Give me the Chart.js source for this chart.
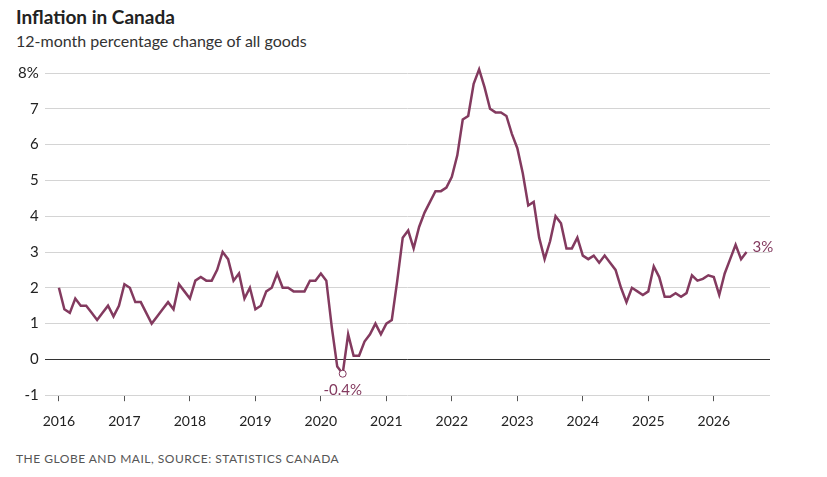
<!DOCTYPE html>
<html><head><meta charset="utf-8">
<script src="https://cdn.jsdelivr.net/npm/chart.js@4"></script>
<style>
body{margin:0;width:827px;height:477px;background:#fff;font-family:Lato,"Open Sans",sans-serif;position:relative;overflow:hidden}
#t{position:absolute;left:16px;top:5px;font-size:19px;font-weight:bold;color:#222}
#s{position:absolute;left:16px;top:31px;font-size:16px;color:#333}
#f{position:absolute;left:16px;top:451px;font-size:12px;color:#555;letter-spacing:0.5px}
#c{position:absolute;left:0;top:58px}
</style></head><body>
<div id="t">Inflation in Canada</div>
<div id="s">12-month percentage change of all goods</div>
<div id="f">THE GLOBE AND MAIL, SOURCE: STATISTICS CANADA</div>
<canvas id="c" width="827" height="384"></canvas>
<script>
const startYear = 2016;
const yearLabels = ['2016','2017','2018','2019','2020','2021','2022','2023','2024','2025','2026'];
const yTicks = [-1,0,1,2,3,4,5,6,7,8];
const inflation = [
2.0,1.4,1.3,1.7,1.5,1.5,1.3,1.1,1.3,1.5,1.2,1.5,
2.1,2.0,1.6,1.6,1.3,1.0,1.2,1.4,1.6,1.4,2.1,1.9,
1.7,2.2,2.3,2.2,2.2,2.5,3.0,2.8,2.2,2.4,1.7,2.0,
1.4,1.5,1.9,2.0,2.4,2.0,2.0,1.9,1.9,1.9,2.2,2.2,
2.4,2.2,0.9,-0.2,-0.4,0.7,0.1,0.1,0.5,0.7,1.0,0.7,
1.0,1.1,2.2,3.4,3.6,3.1,3.7,4.1,4.4,4.7,4.7,4.8,
5.1,5.7,6.7,6.8,7.7,8.1,7.6,7.0,6.9,6.9,6.8,6.3,
5.9,5.2,4.3,4.4,3.4,2.8,3.3,4.0,3.8,3.1,3.1,3.4,
2.9,2.8,2.9,2.7,2.9,2.7,2.5,2.0,1.6,2.0,1.9,1.8,
1.9,2.6,2.3,1.75,1.75,1.85,1.75,1.85,2.35,2.2,2.25,2.35,
2.3,1.8,2.4,2.8,3.2,2.8,3.0
];
const color='#833a5f';
const pts = inflation.map((v,i)=>({x:i,y:v}));
const minIdx = inflation.indexOf(Math.min(...inflation));
const lastIdx = inflation.length-1;
const annot={id:'annot',afterDatasetsDraw(ch){
 const {ctx,scales:{x,y}}=ch;
 ctx.save();
 const mx=x.getPixelForValue(minIdx), my=y.getPixelForValue(inflation[minIdx]);
 ctx.strokeStyle=color;ctx.fillStyle='#fff';ctx.lineWidth=1;
 ctx.beginPath();ctx.arc(mx,my,3.5,0,Math.PI*2);ctx.fill();ctx.stroke();
 ctx.fillStyle=color;ctx.font='15px Lato, sans-serif';ctx.textAlign='center';ctx.textBaseline='top';
 ctx.fillText(inflation[minIdx]+'%',mx,my+9);
 const lx=x.getPixelForValue(lastIdx), ly=y.getPixelForValue(inflation[lastIdx]);
 ctx.textAlign='left';ctx.textBaseline='middle';
 ctx.fillText(Math.round(inflation[lastIdx])+'%',lx+6,ly-5);
 ctx.restore();
}};
new Chart(document.getElementById('c'),{
 type:'line',
 data:{datasets:[{data:pts,borderColor:color,borderWidth:2.5,pointRadius:0,tension:0,clip:false}]},
 options:{responsive:false,animation:false,
  layout:{padding:{left:12,right:57,top:8,bottom:0}},
  plugins:{legend:{display:false},tooltip:{enabled:false}},
  scales:{
   x:{type:'linear',min:-2.6,max:130.3,
     afterBuildTicks(s){s.ticks=yearLabels.map((_,i)=>({value:i*12}));},
     ticks:{autoSkip:false,maxRotation:0,padding:12,color:'#222',font:{size:14,family:'Lato'},callback:(v)=>yearLabels[v/12]},
     grid:{drawOnChartArea:false,drawTicks:true,tickLength:6,color:'#555'},border:{display:false}},
   y:{min:-1,max:8,
     afterBuildTicks(s){s.ticks=yTicks.map(v=>({value:v}));},
     ticks:{color:'#222',font:{size:15,family:'Lato'},padding:6,callback:v=>v===8?'8%':v},
     grid:{color:c=>c.tick.value===0?'#333':'#d4d4d4',lineWidth:1,drawTicks:false},border:{display:false}}
  }},
 plugins:[annot]
});
</script></body></html>
